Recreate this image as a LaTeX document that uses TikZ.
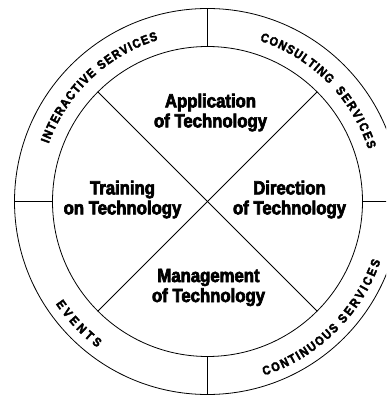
\documentclass[tikz,border=0pt]{standalone}
\usepackage{fontspec}
\usepackage{tikz}
\usetikzlibrary{decorations.text}

\newfontfamily\wheelfont{Liberation Sans Bold}[FakeStretch=0.88, FakeBold=3.5]
\newfontfamily\rimfont{Liberation Sans Bold}[FakeStretch=0.88, FakeBold=3]

\begin{document}
\begin{tikzpicture}[
  x=1pt, y=1pt,
  rim/.style={line width=0.8pt},
  sector/.style={
    align=center,
    font=\wheelfont\fontsize{19}{20}\selectfont
  },
  ringtext/.style={
    decorate,
    decoration={
      text along path,
      text align=fit to path,
      text={|\rimfont\fontsize{12.5}{13}\selectfont|#1}
    }
  }
]
  \useasboundingbox (-207.5,-196.5) rectangle (178.5,201.5);
  \clip (-207.5,-196.5) rectangle (178.5,201.5);

  \coordinate (hub) at (0,0);

  % two circles
  \draw[rim] (hub) circle[radius=155];
  \draw[rim] (hub) circle[radius=193];

  % cross inside the inner circle
  \coordinate (ne) at (45:155);
  \coordinate (nw) at (135:155);
  \coordinate (sw) at (225:155);
  \coordinate (se) at (315:155);
  \draw[rim] (ne) -- (sw);
  \draw[rim] (nw) -- (se);

  % ring dividers
  \foreach \a in {0,90,180,270} {
    \coordinate (in\a) at (\a:155);
    \coordinate (out\a) at (\a:193);
    \draw[rim] (in\a) -- (out\a);
  }

  \node[sector] (application) at (3,89) {Application\\of Technology};
  \node[sector] (training) at (-85,2) {Training\\on Technology};
  \node[sector] (direction) at (82,2) {Direction\\of Technology};
  \node[sector] (management) at (1,-86) {Management\\of Technology};

  % services around the ring
  \path[ringtext=INTERACTIVE] (160:169) arc[start angle=160, end angle=131, radius=169];
  \path[ringtext=SERVICES] (129:169) arc[start angle=129, end angle=107, radius=169];
  \path[ringtext=CONSULTING] (72:169) arc[start angle=72, end angle=44, radius=169];
  \path[ringtext=SERVICES] (41:169) arc[start angle=41, end angle=18, radius=169];
  \path[ringtext=EVENTS] (214:183) arc[start angle=214, end angle=233, radius=183];
  \path[ringtext=CONTINUOUS] (288:183) arc[start angle=288, end angle=316, radius=183];
  \path[ringtext=SERVICES] (318:183) arc[start angle=318, end angle=341, radius=183];
\end{tikzpicture}
\end{document}
